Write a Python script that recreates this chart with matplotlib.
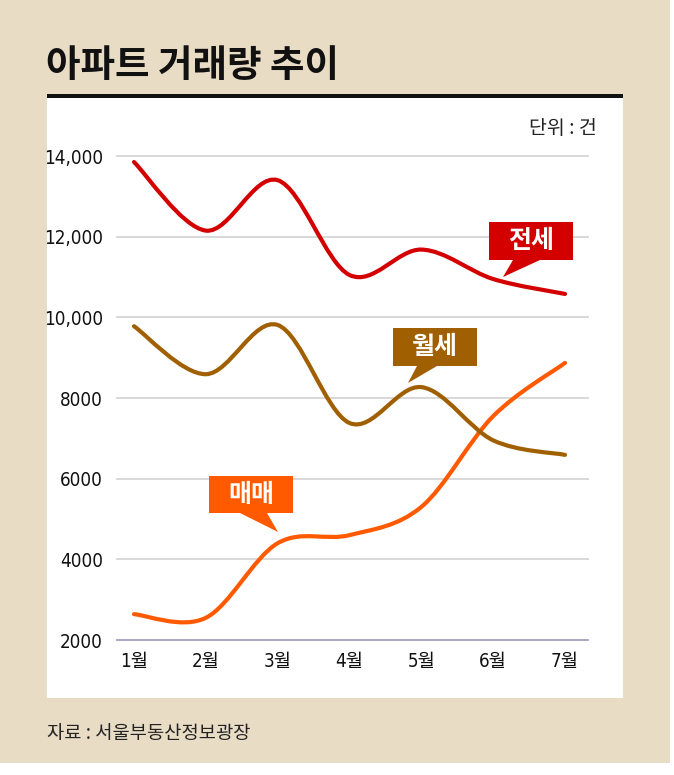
import numpy as np
import matplotlib
matplotlib.use("Agg")
import matplotlib.pyplot as plt
from matplotlib.path import Path
from matplotlib.patches import PathPatch, Rectangle, Polygon
from matplotlib import font_manager as fm

# ================= DATA =================
months = ["1월", "2월", "3월", "4월", "5월", "6월", "7월"]
jeonse = [13850, 12150, 13400, 11050, 11680, 10950, 10580]   # 전세
wolse = [9780, 8590, 9810, 7380, 8270, 6950, 6590]           # 월세
maemae = [2640, 2550, 4400, 4600, 5300, 7550, 8870]          # 매매
y_ticks = [2000, 4000, 6000, 8000, 10000, 12000, 14000]
y_tick_labels = ["2000", "4000", "6000", "8000", "10,000", "12,000", "14,000"]

# ================= STYLE =================
KR = "Noto Sans CJK KR"
# huruf angka sempit kalau ada
cond = fm.findfont(fm.FontProperties(family="DejaVu Sans", stretch="condensed"))
names = {f.name for f in fm.fontManager.ttflist}
if "Liberation Sans Narrow" in names:
    NUM = dict(family=["Liberation Sans Narrow", KR], fontsize=15)
elif "Condensed" in cond:
    NUM = dict(family=["DejaVu Sans", KR], fontstretch="condensed", fontsize=13.5)
else:
    NUM = dict(family=["Liberation Sans", KR], fontsize=14)
plt.rcParams['font.family'] = [KR, 'DejaVu Sans']

BEIGE = "#e8dcc5"
C_JEONSE = "#d40000"
C_WOLSE = "#a05f00"
C_MAEMAE = "#ff5a00"

W, H = 674, 775


def fx(x):
    return x / W


def fy(y):
    return 1 - y / H


def smooth_path(xs, ys, k=1 / 6):
    # cubic bezier through every point (catmull-rom style tangents)
    pts = np.column_stack([xs, ys]).astype(float)
    n = len(pts)
    verts = [pts[0]]
    codes = [Path.MOVETO]
    for i in range(n - 1):
        p0 = pts[i - 1] if i > 0 else pts[i]
        p1, p2 = pts[i], pts[i + 1]
        p3 = pts[i + 2] if i + 2 < n else pts[i + 1]
        c1 = p1 + (p2 - p0) * k
        c2 = p2 - (p3 - p1) * k
        verts += [c1, c2, p2]
        codes += [Path.CURVE4] * 3
    return Path(verts, codes)


fig = plt.figure(figsize=(W / 100, H / 100), dpi=100)
fig.patch.set_facecolor("white")

# background panels
fig.add_artist(Rectangle((0, fy(763)), fx(670), 763 / H, transform=fig.transFigure,
                         facecolor=BEIGE, edgecolor="none", zorder=0))
fig.add_artist(Rectangle((fx(47), fy(698)), fx(623 - 47), (698 - 98) / H, transform=fig.transFigure,
                         facecolor="white", edgecolor="none", zorder=0))
fig.add_artist(Rectangle((fx(47), fy(98)), fx(623 - 47), 4 / H, transform=fig.transFigure,
                         facecolor="#111111", edgecolor="none", zorder=1))

fig.text(fx(46), fy(66), "아파트 거래량 추이", fontsize=27, fontweight="heavy",
         family=[KR], ha="left", va="center", color="#111111")
fig.text(fx(597), fy(128), "단위 : 건", fontsize=14, ha="right", va="center", color="#222222")
fig.text(fx(47), fy(733), "자료 : 서울부동산정보광장", fontsize=13.5, ha="left", va="center", color="#222222")

# ================= CHART =================
ax = fig.add_axes([fx(117), fy(640), fx(588 - 117), (640 - 156) / H])
ax.set_facecolor("none")
x = np.arange(1, len(months) + 1)
ax.set_xlim(1 - 17 / 71.83, 7 + 23 / 71.83)
ax.set_ylim(2000, 14000)

for t in y_ticks:
    if t == 2000:
        ax.axhline(t, color="#a3a3c2", lw=1.3, zorder=1, clip_on=False)
    else:
        ax.axhline(t, color="#d6d6d6", lw=1.3, zorder=1, clip_on=False)

for vals, col in [(maemae, C_MAEMAE), (wolse, C_WOLSE), (jeonse, C_JEONSE)]:
    ax.add_patch(PathPatch(smooth_path(x, vals), facecolor="none", edgecolor=col,
                           lw=3.0, capstyle="round", joinstyle="round", zorder=3, clip_on=False))

ax.set_xticks(x)
ax.set_xticklabels(months, color="#111111", **NUM)
ax.set_yticks(y_ticks)
ax.set_yticklabels(y_tick_labels, color="#111111", **NUM)
ax.tick_params(axis="both", length=0)
ax.tick_params(axis="y", pad=10)
ax.tick_params(axis="x", pad=9)
for s in ax.spines.values():
    s.set_visible(False)


# ================= CALLOUTS =================
def callout(x0, x1, y0, y1, b0, b1, tip, label, color):
    pts = [(x0, y0), (x1, y0), (x1, y1), (b1, y1), tip, (b0, y1), (x0, y1)]
    fig.add_artist(Polygon([(fx(a), fy(b)) for a, b in pts], closed=True,
                           transform=fig.transFigure, facecolor=color, edgecolor="none", zorder=5))
    fig.text(fx((x0 + x1) / 2), fy((y0 + y1) / 2), label, fontsize=18, fontweight="bold",
             color="white", ha="center", va="center", zorder=6)


callout(489, 573, 222, 260, 513, 540, (503, 277), "전세", C_JEONSE)
callout(393, 477, 328, 366, 417, 437, (408, 383), "월세", C_WOLSE)
callout(209, 293, 476, 513, 240, 267, (278, 532), "매매", C_MAEMAE)

fig.savefig("out.png", dpi=100)
